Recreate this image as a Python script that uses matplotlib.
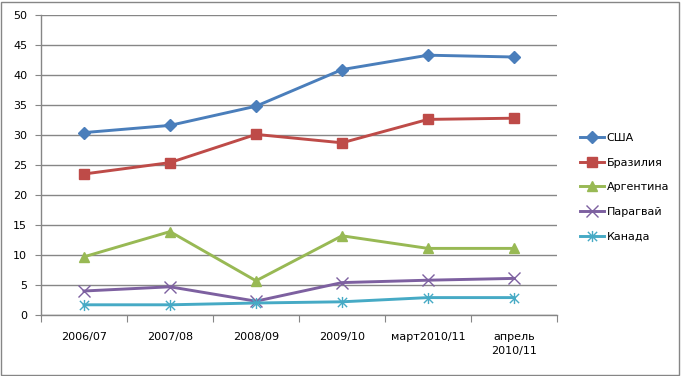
import matplotlib
matplotlib.use("Agg")
import matplotlib.pyplot as plt
from matplotlib.path import Path
from matplotlib.patches import Rectangle

categories = ["2006/07", "2007/08", "2008/09", "2009/10", "март2010/11", "апрель\n2010/11"]
usa = [30.4, 31.6, 34.8, 40.9, 43.3, 43.0]
brazil = [23.5, 25.4, 30.1, 28.7, 32.6, 32.8]
argentina = [9.7, 13.9, 5.7, 13.2, 11.1, 11.1]
paraguay = [4.0, 4.7, 2.3, 5.4, 5.8, 6.1]
canada = [1.7, 1.7, 2.0, 2.2, 2.9, 2.9]
series_names = ["США", "Бразилия", "Аргентина", "Парагвай", "Канада"]
yticks = [0, 5, 10, 15, 20, 25, 30, 35, 40, 45, 50]

star = Path([(-1, -1), (1, 1), (-1, 1), (1, -1), (0, -1.2), (0, 1.2)],
            [Path.MOVETO, Path.LINETO, Path.MOVETO, Path.LINETO, Path.MOVETO, Path.LINETO])

W, H = 681, 376
fig = plt.figure(figsize=(W / 100, H / 100), dpi=100)
plt.rcParams['font.family'] = ['DejaVu Sans']
ax = fig.add_axes([41 / W, 1 - 315 / H, (557 - 41) / W, 300 / H])

x = list(range(len(categories)))
styles = [
    (usa, "#4A7EBB", dict(marker="D", markersize=6)),
    (brazil, "#BE4B48", dict(marker="s", markersize=7.5)),
    (argentina, "#98B954", dict(marker="^", markersize=7.5)),
    (paraguay, "#7D60A0", dict(marker="x", markersize=8, markeredgewidth=1.0)),
    (canada, "#46AAC5", dict(marker=star, markersize=8, markeredgewidth=1.0)),
]
for (vals, col, mk), name in zip(styles, series_names):
    ax.plot(x, vals, color=col, linewidth=2.1, label=name,
            markerfacecolor=col, markeredgecolor=col, **mk)

ax.set_xlim(-0.5, len(categories) - 0.5)
ax.set_ylim(0, 50)
ax.set_yticks(yticks)
ax.set_yticklabels([str(v) for v in yticks], fontsize=8)
ax.yaxis.grid(True, color="#868686", linewidth=1)
ax.set_axisbelow(True)
ax.set_xticks([i - 0.5 for i in range(len(categories) + 1)])
ax.set_xticklabels([])
ax.set_xticks(x, minor=True)
ax.set_xticklabels(categories, minor=True, fontsize=8, linespacing=1.5)
ax.tick_params(axis="x", which="minor", length=0, pad=12)
ax.tick_params(axis="x", which="major", length=5, color="#868686")
ax.tick_params(axis="y", length=4, color="#868686", pad=6)
for s in ["top", "right"]:
    ax.spines[s].set_visible(False)
for s in ["left", "bottom"]:
    ax.spines[s].set_color("#868686")
    ax.spines[s].set_linewidth(1)

leg = fig.legend(loc="upper left", bbox_to_anchor=(570 / W, 1 - 123 / H), frameon=False,
                 fontsize=8, labelspacing=1.32, handlelength=2.2, handletextpad=0.2)

fig.patches.append(Rectangle((1 / W, 1 / H), (W - 3) / W, (H - 3) / H, transform=fig.transFigure,
                             fill=False, edgecolor="#868686", linewidth=1))
fig.savefig("out.png", dpi=100)
